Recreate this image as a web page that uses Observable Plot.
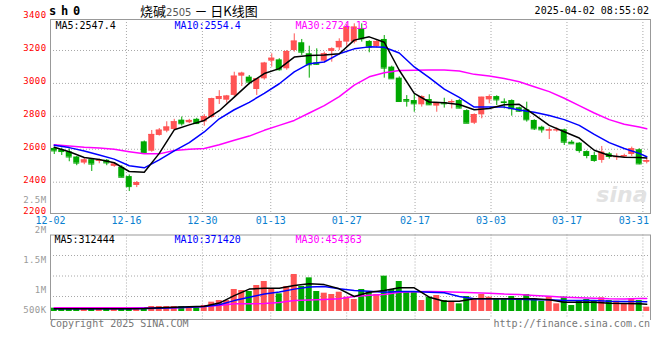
<!DOCTYPE html>
<html>
<head>
<meta charset="utf-8">
<script src="https://cdn.jsdelivr.net/npm/d3@7"></script>
<script src="https://cdn.jsdelivr.net/npm/@observablehq/plot@0.6"></script>
<style>
html,body{margin:0;padding:0;background:#fff;}
#chart{position:relative;width:660px;height:360px;overflow:hidden;background:#fff;font-family:"DejaVu Sans Mono",monospace;}
#chart svg{position:absolute;left:0;overflow:visible;}
.hdr{position:absolute;white-space:nowrap;line-height:12px;}
#code{left:49px;top:5px;font:bold 12px "DejaVu Sans Mono";letter-spacing:4.8px;line-height:12px;}
#title{left:140px;top:4px;font:13px "Noto Sans CJK SC";color:#000;line-height:13px;}
#title .num{font:10px "DejaVu Sans";color:#555;}
#time{right:11px;top:5px;font:10px "DejaVu Sans Mono";color:#000;line-height:11px;}
#copy{left:50px;top:318px;font:10px "DejaVu Sans Mono";color:#777;line-height:11px;}
#url{right:10px;top:318px;font:10px "DejaVu Sans Mono";color:#777;background:#fff;padding-left:3px;line-height:11px;}
.axlbl text{letter-spacing:0.4px;}
</style>
</head>
<body>
<div id="chart">
  <div class="hdr" id="code">sh0</div>
  <div class="hdr" id="title">烧碱<span class="num">2505</span> － 日K线图</div>
  <div class="hdr" id="time">2025-04-02 08:55:02</div>
</div>
<script>
// ---------------- data ----------------
const tickLabels = ["12-02","12-16","12-30","01-13","01-27","02-17","03-03","03-17","03-31"];
const tickIndex  = [0, 10, 20, 29, 39, 48, 58, 68, 78];
const priceTicks = [2200, 2400, 2600, 2800, 3000, 3200, 3400];
const volTickLabels = ["2.5M", "2M", "1.5M", "1M", "500K"];
const volTickValues = [2500, 2000, 1500, 1000, 500];   // thousands
const volGrid = [500, 1000, 1500];                     // thousands

const opens  = [2605,2597,2584,2553,2516,2537,2528,2533,2496,2490,2434,2380,2645,2588,2684,2710,2720,2777,2761,2782,
                2766,2793,2902,2898,2927,3044,3038,2963,3028,3135,3143,3089,3200,3247,3180,3125,3135,3194,3216,3251,
                3251,3331,3255,3224,3267,3099,3032,2902,2896,2870,2902,2862,2884,2882,2896,2835,2758,2809,2900,2920,
                2888,2896,2852,2840,2775,2734,2710,2712,2718,2643,2637,2586,2562,2532,2572,2548,2552,2568,2597,2521];
const highs  = [2612,2607,2602,2556,2545,2540,2540,2537,2516,2500,2444,2404,2650,2714,2726,2767,2782,2796,2782,2788,
                2810,2910,2956,2927,3068,3068,3048,3030,3128,3180,3150,3200,3301,3267,3226,3210,3190,3216,3271,3358,
                3362,3362,3260,3260,3291,3105,3040,2926,2931,2925,2931,2885,2910,2900,2902,2840,2815,2916,2930,2925,
                2906,2900,2856,2886,2779,2740,2730,2730,2722,2653,2640,2590,2582,2617,2580,2572,2570,2613,2603,2542];
const lows   = [2568,2562,2524,2500,2506,2465,2512,2500,2490,2428,2343,2367,2576,2582,2680,2700,2714,2741,2755,2750,
                2740,2788,2872,2880,2920,2981,2992,2927,3020,3099,3075,3080,3190,3170,3032,3109,3125,3129,3200,3225,
                3240,3251,3186,3215,3032,3028,2890,2856,2825,2856,2866,2825,2850,2845,2846,2758,2750,2785,2876,2866,
                2845,2801,2825,2765,2714,2698,2659,2704,2623,2633,2576,2542,2521,2515,2540,2532,2550,2556,2506,2511];
const closes = [2590,2586,2553,2516,2535,2510,2532,2517,2510,2430,2373,2398,2580,2690,2716,2735,2767,2755,2775,2756,
                2798,2907,2920,2923,3044,3062,3008,3028,3123,3153,3083,3194,3257,3190,3113,3116,3180,3210,3255,3342,
                3342,3271,3220,3255,3093,3028,2890,2892,2876,2920,2870,2882,2876,2890,2850,2758,2811,2916,2920,2900,
                2884,2846,2831,2779,2724,2718,2718,2718,2643,2633,2592,2562,2532,2582,2556,2556,2562,2603,2511,2531];
// volume, thousands of lots
const volumes = [215,199,199,191,191,191,191,191,191,215,215,190,215,256,256,256,256,256,224,224,
                 280,362,402,402,671,646,622,768,866,687,565,744,1037,744,955,622,581,549,605,484,
                 427,671,622,549,996,671,866,605,605,402,484,524,402,378,321,500,443,549,484,435,
                 443,500,435,549,435,386,500,321,484,280,402,427,402,468,402,386,305,443,402,240];

// moving-average lines, read at these candle indices
const maIndex = [0,2,4,6,8,10,12,14,16,18,20,22,24,26,28,30,32,34,36,38,40,42,44,46,48,50,52,54,56,58,60,62,64,66,68,70,72,74,76,78,79];
const ma5  = [2612,2585,2550,2538,2518,2465,2460,2575,2718,2748,2775,2834,2917,3000,3060,3090,3160,3170,3172,3180,
              3263,3283,3250,3080,2940,2887,2882,2872,2840,2848,2870,2873,2810,2745,2706,2668,2594,2562,2552,2550,2547.4];
const ma10 = [2625,2610,2590,2565,2540,2500,2487,2535,2590,2640,2705,2785,2840,2885,2940,2998,3070,3120,3130,3180,
              3210,3222,3220,3185,3100,3035,2965,2915,2856,2856,2856,2838,2825,2805,2780,2745,2690,2640,2605,2575,2554.4];
const ma30 = [2627,2620,2612,2607,2600,2585,2572,2572,2592,2600,2605,2627,2655,2680,2715,2745,2775,2820,2865,2920,
              2990,3040,3065,3078,3080,3082,3082,3076,3055,3045,3030,3010,2980,2950,2910,2865,2820,2780,2752,2735,2724.13];
const vma5  = [199,199,199,199,199,199,205,224,240,250,260,340,520,680,700,700,770,810,790,687,
               500,605,646,711,711,484,386,386,443,443,443,443,443,420,362,362,362,338,330,321,312];
const vma10 = [199,199,199,199,199,199,205,215,224,240,256,300,400,480,560,610,680,730,744,690,
               646,630,605,622,622,605,590,500,443,443,443,430,419,419,402,402,402,386,380,375,371];
const vma30 = [224,224,224,224,224,224,224,224,224,235,256,280,321,321,330,354,402,415,427,443,
               500,530,549,605,615,622,615,605,590,581,560,549,524,505,484,470,460,443,440,450,454];

const priceLegend = ["MA5:2547.4", "MA10:2554.4", "MA30:2724.13"];
const volLegend   = ["MA5:312444", "MA10:371420", "MA30:454363"];

// ---------------- build ----------------
const N = opens.length;
const candles = d3.range(N).map(i => ({i, o: opens[i], h: highs[i], l: lows[i], c: closes[i], v: volumes[i]}));
const RED = "#ff5454", GREEN = "#00a800", BLUE_LBL = "#0a7fd0";
const col = d => d.c >= d.o ? RED : GREEN;
// Sina spreads the date grid over (N-1) steps while candles use N slots
const tickPos = tickIndex.map(i => i * N / (N - 1));
const maPts = arr => maIndex.map((i, k) => ({x: i + 0.5, y: arr[k]}));
const gridStyle = {stroke: "#a8a8a8", strokeDasharray: "1,2"};
const font = {fontFamily: "'DejaVu Sans Mono', monospace", fontSize: "10px", background: "transparent", overflow: "visible"};
const legendDx = [5, 124, 245];
const yLbl = {frameAnchor: "left", dx: -4, textAnchor: "end", fill: "#ff0000", fontSize: 9, className: "axlbl"};

const main = Plot.plot({
  width: 660, height: 228,
  marginLeft: 50, marginRight: 10, marginTop: 19, marginBottom: 15,
  x: {domain: [0, N], axis: null},
  y: {domain: [2209.7, 3388.3], axis: null},
  color: {type: "identity"},
  style: font,
  marks: [
    Plot.ruleY(priceTicks.filter(v => v > 2210 && v < 3388), gridStyle),
    Plot.ruleX(tickPos.filter(p => p > 0), gridStyle),
    Plot.text(["sina"], {frameAnchor: "bottom-right", dx: -3, dy: -12, fontSize: 22, fontWeight: "bold", fontStyle: "italic", fontFamily: "DejaVu Sans", fill: "#e2e2e2"}),
    Plot.ruleX(candles, {x: d => d.i + 0.5, y1: "l", y2: "h", stroke: col}),
    Plot.rect(candles, {x1: d => d.i + 0.1, x2: d => d.i + 0.9, y1: d => Math.min(d.o, d.c), y2: d => Math.max(d.o, d.c), fill: col}),
    Plot.ruleY(candles, {x1: d => d.i + 0.1, x2: d => d.i + 0.9, y: "c", stroke: col}),
    Plot.line(maPts(ma30), {x: "x", y: "y", stroke: "#ff00ff"}),
    Plot.line(maPts(ma10), {x: "x", y: "y", stroke: "#0000ff"}),
    Plot.line(maPts(ma5),  {x: "x", y: "y", stroke: "#000000"}),
    Plot.frame({stroke: "#999"}),
    Plot.text(priceTicks.slice(1), {y: d => d, text: d => String(d), dy: -2.5, ...yLbl}),
    Plot.text(priceTicks.slice(0, 1), {y: d => d, text: d => String(d), dy: -4, ...yLbl}),
    Plot.text(tickLabels.slice(0, -1), {x: (d, k) => tickPos[k], text: d => d, frameAnchor: "bottom", dy: 10.5, fill: BLUE_LBL}),
    Plot.text(tickLabels.slice(-1), {x: () => tickPos[tickPos.length - 1], text: d => d, frameAnchor: "bottom", dy: 10.5, dx: 6, textAnchor: "end", fill: BLUE_LBL}),
    Plot.text([priceLegend[0]], {frameAnchor: "top-left", dx: legendDx[0], dy: 2, lineAnchor: "top", textAnchor: "start", fill: "#000"}),
    Plot.text([priceLegend[1]], {frameAnchor: "top-left", dx: legendDx[1], dy: 2, lineAnchor: "top", textAnchor: "start", fill: "#0000ff"}),
    Plot.text([priceLegend[2]], {frameAnchor: "top-left", dx: legendDx[2], dy: 2, lineAnchor: "top", textAnchor: "start", fill: "#ff00ff"})
  ]
});
main.style.top = "0px";

const vol = Plot.plot({
  width: 660, height: 100,
  marginLeft: 50, marginRight: 10, marginTop: 6.5, marginBottom: 9,
  x: {domain: [0, N], axis: null},
  y: {domain: [0, 2000], range: [88.5, 6.5], axis: null},
  color: {type: "identity"},
  style: font,
  marks: [
    Plot.ruleY(volGrid, gridStyle),
    Plot.ruleX(tickPos.filter(p => p > 0), gridStyle),
    Plot.rect(candles, {x1: d => d.i + 0.1, x2: d => d.i + 0.9, y1: 0, y2: "v", fill: col, insetBottom: 5.5}),
    Plot.line(maPts(vma30), {x: "x", y: "y", stroke: "#ff00ff"}),
    Plot.line(maPts(vma10), {x: "x", y: "y", stroke: "#0000ff"}),
    Plot.line(maPts(vma5),  {x: "x", y: "y", stroke: "#000000"}),
    Plot.frame({stroke: "#999"}),
    Plot.text([volLegend[0]], {frameAnchor: "top-left", dx: legendDx[0] - 1, dy: 1, lineAnchor: "top", textAnchor: "start", fill: "#000"}),
    Plot.text([volLegend[1]], {frameAnchor: "top-left", dx: legendDx[1], dy: 1, lineAnchor: "top", textAnchor: "start", fill: "#0000ff"}),
    Plot.text([volLegend[2]], {frameAnchor: "top-left", dx: legendDx[2], dy: 1, lineAnchor: "top", textAnchor: "start", fill: "#ff00ff"})
  ]
});
vol.style.top = "228px";

// volume axis labels (Sina spaces them 30px per 500K, last one pulled inside)
const vlab = Plot.plot({
  width: 660, height: 360,
  marginLeft: 50, marginRight: 10, marginTop: 201, marginBottom: 9,
  x: {domain: [0, 1], axis: null},
  y: {domain: [0, 2500], axis: null},
  style: font,
  marks: [
    Plot.text(volTickLabels.slice(0, 4), {y: (d, k) => volTickValues[k], text: d => d, frameAnchor: "left", dx: -4, dy: -1.5, textAnchor: "end", fill: "#9a9a9a", fontSize: 9, className: "axlbl"}),
    Plot.text(volTickLabels.slice(4), {y: () => volTickValues[4], text: d => d, frameAnchor: "left", dx: -4, dy: -11, textAnchor: "end", fill: "#9a9a9a", fontSize: 9, className: "axlbl"})
  ]
});
vlab.style.top = "0px";
vlab.style.pointerEvents = "none";

const chart = document.getElementById("chart");
chart.appendChild(main);
chart.appendChild(vol);
chart.appendChild(vlab);
const copy = document.createElement("div"); copy.className = "hdr"; copy.id = "copy"; copy.textContent = "Copyright 2025 SINA.COM";
const url = document.createElement("div"); url.className = "hdr"; url.id = "url"; url.textContent = "http://finance.sina.com.cn";
chart.appendChild(copy); chart.appendChild(url);
</script>
</body>
</html>
